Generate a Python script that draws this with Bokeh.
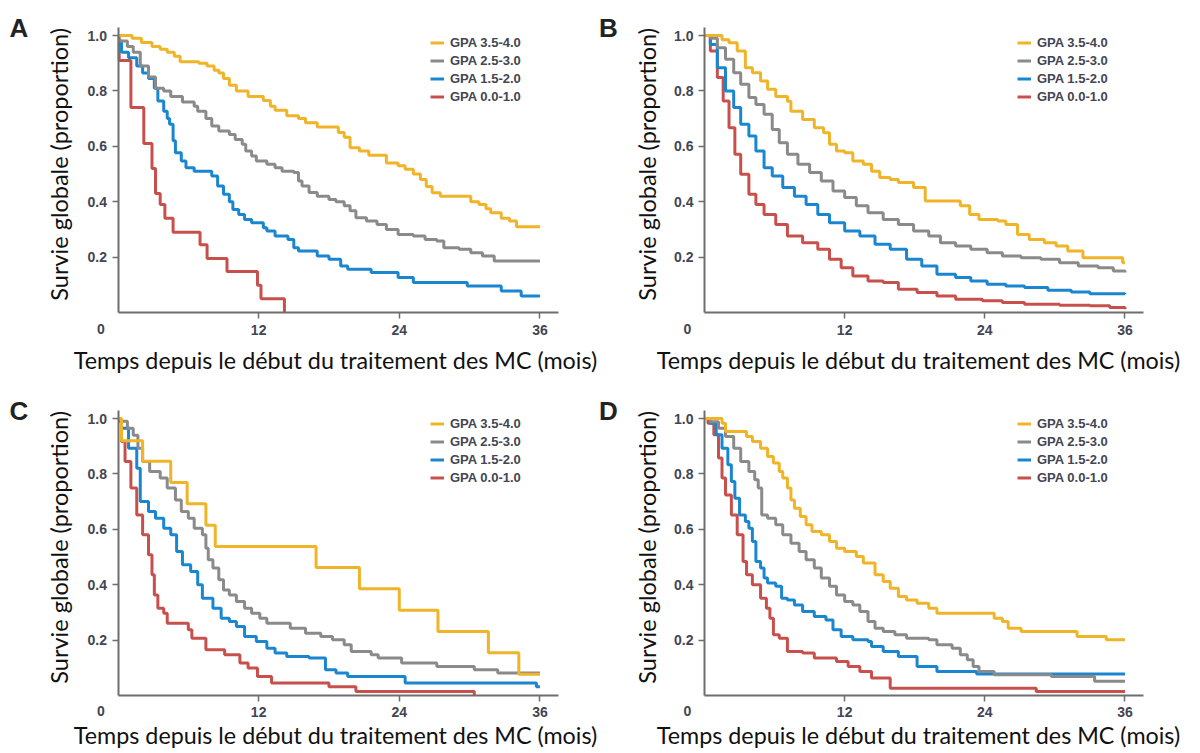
import math
from bokeh.plotting import figure
from bokeh.layouts import column, row
from bokeh.models import Range1d, FixedTicker, Label, Legend, LegendItem, PrintfTickFormatter
from bokeh.embed import file_html
from bokeh.resources import INLINE

groups = ["GPA 3.5-4.0", "GPA 2.5-3.0", "GPA 1.5-2.0", "GPA 0.0-1.0"]
colors = ["#f0b429", "#8a8a8a", "#1a86d0", "#c8504c"]
x_ticks = [12, 24, 36]
y_ticks = [0.2, 0.4, 0.6, 0.8, 1.0]
x_title = "Temps depuis le début du traitement des MC (mois)"
y_title = "Survie globale (proportion)"
origin_label = "0"

# ---------------- Panel A ----------------
a_t_y = [0, 1.2, 2.0, 2.9, 3.6, 4.2, 4.8, 5.3, 6.9, 7.6, 8.2, 8.6, 9.0, 9.5, 10.1, 11.1, 12.4, 13.0, 13.4, 14.4,
         15.4, 16.0, 17.0, 18.8, 19.3, 19.8, 20.6, 21.4, 22.9, 23.9, 24.5, 25.2, 25.8, 26.3, 26.8, 27.5, 30.1, 30.8,
         31.4, 31.8, 32.7, 33.4, 34.0, 36.0]
a_s_y = [1.0, 0.99, 0.975, 0.96, 0.95, 0.94, 0.925, 0.905, 0.90, 0.89, 0.875, 0.865, 0.845, 0.82, 0.80, 0.78, 0.765,
         0.745, 0.73, 0.71, 0.70, 0.685, 0.67, 0.65, 0.633, 0.595, 0.583, 0.568, 0.54, 0.53, 0.517, 0.50, 0.48, 0.455,
         0.432, 0.42, 0.40, 0.39, 0.375, 0.36, 0.34, 0.33, 0.31, 0.31]
a_t_g = [0, 0.8, 1.3, 1.9, 2.6, 3.2, 3.9, 4.5, 5.5, 6.5, 6.8, 7.5, 8.0, 8.6, 9.5, 10.0, 10.6, 10.9, 11.4, 11.8, 12.7,
         13.4, 14.0, 15.0, 15.4, 15.7, 16.3, 17.0, 18.0, 18.6, 19.3, 19.8, 20.3, 21.2, 22.1, 22.9, 23.9, 25.2, 26.2,
         27.2, 27.8, 29.1, 30.1, 31.1, 32.1, 36.0]
a_s_g = [0.98, 0.96, 0.94, 0.89, 0.85, 0.81, 0.80, 0.78, 0.76, 0.745, 0.727, 0.70, 0.673, 0.655, 0.643, 0.625, 0.607,
         0.583, 0.565, 0.547, 0.535, 0.523, 0.51, 0.505, 0.475, 0.457, 0.433, 0.42, 0.408, 0.40, 0.385, 0.367, 0.342,
         0.33, 0.318, 0.30, 0.282, 0.276, 0.264, 0.258, 0.234, 0.228, 0.216, 0.204, 0.186, 0.186]
a_t_b = [0, 0.3, 0.9, 1.6, 2.1, 2.6, 3.1, 3.4, 3.9, 4.2, 4.4, 4.7, 4.9, 5.4, 5.8, 6.5, 8.0, 8.5, 9.0, 9.5, 9.8, 10.3,
         10.8, 11.4, 12.4, 12.7, 13.4, 14.5, 15.0, 15.4, 17.0, 18.0, 19.0, 19.6, 21.6, 23.9, 25.2, 29.8, 32.7, 34.4, 36.0]
a_s_b = [0.98, 0.94, 0.92, 0.89, 0.865, 0.845, 0.81, 0.764, 0.727, 0.70, 0.68, 0.62, 0.577, 0.547, 0.523, 0.51, 0.493,
         0.457, 0.427, 0.40, 0.372, 0.354, 0.336, 0.324, 0.306, 0.294, 0.276, 0.264, 0.234, 0.222, 0.204, 0.192, 0.168,
         0.156, 0.144, 0.126, 0.108, 0.096, 0.078, 0.06, 0.06]
a_t_r = [0, 0.1, 1.1, 2.2, 2.9, 3.2, 3.6, 4.0, 4.7, 7.0, 7.6, 9.3, 11.9, 12.2, 14.2]
a_s_r = [1.0, 0.91, 0.74, 0.61, 0.52, 0.43, 0.39, 0.34, 0.29, 0.245, 0.195, 0.148, 0.098, 0.05, 0.0]

# ---------------- Panel B ----------------
b_t_y = [0, 1.5, 2.1, 2.8, 3.5, 4.1, 4.8, 5.4, 6.1, 7.1, 7.4, 8.4, 9.4, 10.2, 10.7, 11.3, 12.0, 12.7, 13.6, 14.3, 15.0,
         15.9, 16.6, 17.9, 18.9, 21.9, 22.7, 23.5, 25.1, 25.8, 26.8, 27.8, 29.1, 30.1, 31.1, 32.4, 35.8, 36.0]
b_s_y = [1.0, 0.985, 0.974, 0.944, 0.884, 0.866, 0.836, 0.806, 0.78, 0.763, 0.727, 0.697, 0.667, 0.649, 0.607, 0.583,
         0.577, 0.547, 0.535, 0.51, 0.487, 0.48, 0.469, 0.451, 0.403, 0.385, 0.354, 0.336, 0.33, 0.318, 0.282, 0.264,
         0.252, 0.24, 0.222, 0.198, 0.18, 0.18]
b_t_g = [0, 0.5, 1.1, 1.8, 2.5, 3.1, 3.8, 4.4, 5.1, 5.8, 6.4, 7.1, 8.0, 9.0, 10.0, 11.0, 12.0, 13.0, 14.0, 15.3, 16.6,
         17.9, 19.2, 20.2, 21.5, 22.8, 24.2, 25.5, 27.1, 28.8, 30.4, 32.0, 33.7, 35.0, 36.0]
b_s_g = [1.0, 0.99, 0.956, 0.914, 0.866, 0.824, 0.776, 0.751, 0.716, 0.661, 0.613, 0.571, 0.535, 0.505, 0.475, 0.439,
         0.415, 0.385, 0.36, 0.336, 0.318, 0.294, 0.276, 0.252, 0.24, 0.228, 0.216, 0.204, 0.198, 0.192, 0.18, 0.168,
         0.162, 0.15, 0.144]
b_t_b = [0, 0.5, 1.1, 1.8, 2.5, 3.1, 3.8, 4.4, 5.1, 5.8, 6.7, 7.7, 8.7, 9.7, 10.7, 12.0, 13.3, 14.6, 15.9, 17.3, 18.6,
         19.9, 21.5, 22.8, 24.2, 25.8, 27.4, 29.4, 31.4, 33.0, 36.0]
b_s_b = [1.0, 0.968, 0.884, 0.80, 0.74, 0.68, 0.637, 0.583, 0.523, 0.493, 0.451, 0.42, 0.39, 0.354, 0.324, 0.294,
         0.276, 0.246, 0.228, 0.192, 0.168, 0.138, 0.126, 0.114, 0.102, 0.096, 0.09, 0.08, 0.074, 0.068, 0.066]
b_t_r = [0, 0.5, 1.1, 1.6, 2.1, 2.6, 3.1, 3.8, 4.4, 5.1, 6.1, 7.1, 8.4, 9.7, 10.7, 11.7, 12.7, 14.0, 15.3, 16.6, 18.2,
         19.9, 21.5, 23.8, 25.5, 27.4, 30.4, 33.0, 34.7, 36.0]
b_s_r = [1.0, 0.944, 0.848, 0.764, 0.667, 0.571, 0.499, 0.427, 0.39, 0.354, 0.318, 0.276, 0.252, 0.228, 0.192, 0.162,
         0.132, 0.114, 0.108, 0.084, 0.072, 0.06, 0.048, 0.042, 0.036, 0.03, 0.026, 0.024, 0.018, 0.012]

# ---------------- Panel C ----------------
c_t_y = [0, 0.3, 2.1, 4.5, 5.9, 7.5, 8.3, 16.9, 20.6, 24.0, 27.3, 31.6, 34.2, 36.0]
c_s_y = [1.0, 0.92, 0.846, 0.769, 0.692, 0.615, 0.538, 0.462, 0.385, 0.308, 0.231, 0.154, 0.077, 0.077]
c_t_g = [0, 0.8, 1.3, 1.7, 2.1, 2.7, 3.6, 4.2, 4.9, 5.4, 6.0, 6.5, 7.2, 7.5, 7.7, 8.1, 8.6, 9.0, 9.5, 10.1, 10.8, 11.4,
         12.1, 12.7, 14.7, 16.0, 17.3, 18.3, 19.3, 19.9, 21.6, 22.2, 24.2, 27.2, 30.4, 32.4, 36.0]
c_s_g = [0.99, 0.965, 0.94, 0.893, 0.845, 0.809, 0.785, 0.749, 0.706, 0.664, 0.64, 0.604, 0.58, 0.532, 0.49, 0.46,
         0.418, 0.381, 0.363, 0.339, 0.315, 0.297, 0.279, 0.261, 0.243, 0.225, 0.213, 0.201, 0.183, 0.159, 0.147,
         0.135, 0.117, 0.105, 0.093, 0.081, 0.081]
c_t_b = [0, 0.3, 0.9, 1.6, 1.9, 2.6, 3.2, 3.9, 4.5, 5.0, 5.5, 6.2, 6.8, 7.2, 8.1, 8.8, 9.5, 10.1, 10.8, 11.8, 12.7,
         13.4, 14.4, 16.3, 17.7, 18.6, 19.6, 24.5, 35.7, 36.0]
c_s_b = [0.995, 0.965, 0.893, 0.82, 0.70, 0.664, 0.64, 0.604, 0.58, 0.52, 0.472, 0.448, 0.40, 0.351, 0.315, 0.279,
         0.267, 0.249, 0.213, 0.195, 0.171, 0.153, 0.141, 0.135, 0.093, 0.081, 0.069, 0.045, 0.032, 0.032]
c_t_r = [0, 0.3, 0.6, 1.1, 1.6, 2.1, 2.6, 2.9, 3.1, 3.4, 3.9, 4.2, 6.0, 6.3, 7.5, 9.1, 10.4, 11.1, 11.9, 13.1, 18.0,
         20.3, 30.4]
c_s_r = [0.99, 0.917, 0.845, 0.749, 0.652, 0.58, 0.508, 0.436, 0.363, 0.315, 0.297, 0.261, 0.237, 0.207, 0.165, 0.147,
         0.117, 0.099, 0.069, 0.045, 0.032, 0.014, 0.0]

# ---------------- Panel D ----------------
d_t_y = [0, 1.5, 1.8, 3.6, 4.1, 4.8, 5.4, 5.9, 6.4, 6.7, 7.1, 7.4, 7.7, 8.2, 8.7, 9.2, 10.0, 10.7, 11.3, 12.0, 13.0,
         13.6, 14.6, 15.3, 15.9, 16.6, 17.3, 18.2, 19.2, 19.9, 24.8, 25.5, 26.0, 27.1, 31.9, 34.4, 36.0]
d_s_y = [1.0, 0.983, 0.953, 0.935, 0.917, 0.893, 0.863, 0.839, 0.809, 0.785, 0.749, 0.706, 0.676, 0.646, 0.616, 0.592,
         0.58, 0.556, 0.532, 0.52, 0.502, 0.478, 0.436, 0.412, 0.387, 0.357, 0.345, 0.333, 0.315, 0.297, 0.279, 0.267,
         0.243, 0.231, 0.213, 0.201, 0.201]
d_t_g = [0, 0.5, 1.2, 1.8, 2.5, 3.1, 3.8, 4.3, 4.6, 4.9, 5.4, 6.1, 6.7, 7.4, 8.1, 8.7, 9.4, 10.0, 10.7, 11.3, 12.0,
         12.7, 13.3, 14.0, 14.6, 15.3, 16.3, 17.3, 19.2, 19.9, 21.2, 21.9, 22.5, 23.0, 23.5, 24.8, 29.7, 33.4, 36.0]
d_s_g = [1.0, 0.988, 0.965, 0.935, 0.893, 0.845, 0.809, 0.779, 0.749, 0.652, 0.64, 0.616, 0.58, 0.55, 0.52, 0.49, 0.46,
         0.424, 0.394, 0.363, 0.339, 0.327, 0.303, 0.267, 0.243, 0.231, 0.219, 0.207, 0.201, 0.183, 0.171, 0.147,
         0.129, 0.105, 0.087, 0.075, 0.069, 0.051, 0.051]
d_t_b = [0, 0.5, 1.0, 1.5, 2.0, 2.3, 2.6, 3.0, 3.5, 3.8, 4.1, 4.4, 4.8, 5.1, 5.4, 6.1, 6.6, 7.1, 7.7, 8.4, 9.4, 10.4,
         11.0, 11.7, 12.7, 14.0, 14.3, 15.3, 16.6, 18.2, 19.9, 23.3, 36.0]
d_s_b = [1.0, 0.983, 0.941, 0.893, 0.833, 0.773, 0.712, 0.652, 0.628, 0.604, 0.556, 0.484, 0.46, 0.424, 0.406, 0.394,
         0.351, 0.345, 0.327, 0.303, 0.285, 0.273, 0.237, 0.213, 0.201, 0.195, 0.177, 0.159, 0.141, 0.105, 0.087,
         0.078, 0.078]
d_t_r = [0, 0.3, 0.8, 1.2, 1.5, 1.8, 2.3, 2.8, 3.3, 3.6, 4.1, 4.8, 5.3, 5.6, 5.9, 6.4, 7.1, 8.4, 9.4, 11.3, 12.3, 13.3,
         14.3, 15.9, 28.4, 36.0]
d_s_r = [1.0, 0.983, 0.941, 0.857, 0.785, 0.724, 0.652, 0.58, 0.484, 0.436, 0.40, 0.351, 0.315, 0.279, 0.219, 0.207,
         0.159, 0.153, 0.135, 0.123, 0.105, 0.087, 0.063, 0.026, 0.014, 0.014]

panels = {
    "A": ([a_t_y, a_t_g, a_t_b, a_t_r], [a_s_y, a_s_g, a_s_b, a_s_r]),
    "B": ([b_t_y, b_t_g, b_t_b, b_t_r], [b_s_y, b_s_g, b_s_b, b_s_r]),
    "C": ([c_t_y, c_t_g, c_t_b, c_t_r], [c_s_y, c_s_g, c_s_b, c_s_r]),
    "D": ([d_t_y, d_t_g, d_t_b, d_t_r], [d_s_y, d_s_g, d_s_b, d_s_r]),
}

AXIS_COLOR = "#6e6e6e"
LABEL_COLOR = "#434552"
TITLE_FONT = "Lato"
TICK_FONT = "Liberation Sans"


def make_panel(letter, width, height, xr, yr, title_cx, title_dy, ylab_dx, letter_dx, legend_loc):
    times, survs = panels[letter]
    p = figure(width=width, height=height, x_range=Range1d(*xr), y_range=Range1d(*yr),
               min_border=0, min_border_left=0, min_border_right=0, min_border_top=0, min_border_bottom=0,
               toolbar_location=None, output_backend="svg", outline_line_color=None)
    p.xgrid.visible = False
    p.ygrid.visible = False
    for ax in (p.xaxis[0], p.yaxis[0]):
        ax.fixed_location = 0
        ax.axis_line_color = AXIS_COLOR
        ax.axis_line_width = 2
        ax.major_tick_line_color = AXIS_COLOR
        ax.major_tick_line_width = 1.5
        ax.major_tick_in = 0
        ax.major_tick_out = 6
        ax.minor_tick_line_color = None
        ax.major_label_text_font = TICK_FONT
        ax.major_label_text_font_style = "bold"
        ax.major_label_text_font_size = "14px"
        ax.major_label_text_color = LABEL_COLOR
    p.xaxis.bounds = (0, 37.6)
    p.yaxis.bounds = (0, 1.03)
    p.xaxis.major_label_standoff = 6
    p.yaxis.major_label_standoff = 5
    p.xaxis.ticker = FixedTicker(ticks=x_ticks)
    p.yaxis.ticker = FixedTicker(ticks=y_ticks)
    p.yaxis.formatter = PrintfTickFormatter(format="%.1f")

    rends = [None] * 4
    for i in [3, 2, 1, 0]:
        rends[i] = p.step(times[i], survs[i], mode="after", line_color=colors[i], line_width=3)

    legend = Legend(items=[LegendItem(label=groups[i], renderers=[rends[i]]) for i in range(4)],
                    location=legend_loc, orientation="vertical")
    legend.label_text_font = TICK_FONT
    legend.label_text_font_style = "bold"
    legend.label_text_font_size = "13px"
    legend.label_text_color = LABEL_COLOR
    legend.glyph_width = 14
    legend.glyph_height = 17
    legend.label_height = 17
    legend.label_standoff = 6
    legend.spacing = 1
    legend.padding = 0
    legend.margin = 0
    legend.border_line_color = None
    legend.background_fill_alpha = 0
    p.add_layout(legend)

    p.add_layout(Label(x=0, y=0, x_offset=-17, y_offset=-16, text=origin_label, text_align="center",
                       text_baseline="middle", text_font=TICK_FONT, text_font_style="bold",
                       text_font_size="14px", text_color=LABEL_COLOR))
    p.add_layout(Label(x=0, y=1.0, x_offset=letter_dx, y_offset=8, text=letter, text_align="center",
                       text_baseline="middle", text_font=TICK_FONT, text_font_style="bold",
                       text_font_size="26px", text_color="#222222"))
    p.add_layout(Label(x=0, y=0.535, x_offset=ylab_dx, angle=math.pi / 2, text=y_title,
                       text_align="center", text_baseline="middle", text_font=TITLE_FONT,
                       text_font_size="23.5px", text_color="#111111"))
    p.add_layout(Label(x=title_cx, y=0, y_offset=title_dy, text=x_title, text_align="center",
                       text_baseline="alphabetic", text_font=TITLE_FONT, text_font_size="23.3px",
                       text_color="#111111"))
    return p


XR_LEFT = (-10.026, 40.998)
XR_RIGHT = (-9.075, 42.38)
YR_TOP = (-0.2852, 1.1264)
YR_BOTTOM = (-0.2058, 1.0975)

pA = make_panel("A", 598, 391, XR_LEFT, YR_TOP, 18.56, -47, -59, -99, (430, 286))
pB = make_panel("B", 601, 391, XR_RIGHT, YR_TOP, 18.32, -47, -57, -96, (419, 286))
pC = make_panel("C", 598, 361, XR_LEFT, YR_BOTTOM, 18.56, -40, -59, -99, (430, 266))
pD = make_panel("D", 601, 361, XR_RIGHT, YR_BOTTOM, 18.32, -40, -57, -96, (419, 266))

layout = column(row(pA, pB), row(pC, pD))
open("out.html", "w").write(file_html(layout, INLINE))
